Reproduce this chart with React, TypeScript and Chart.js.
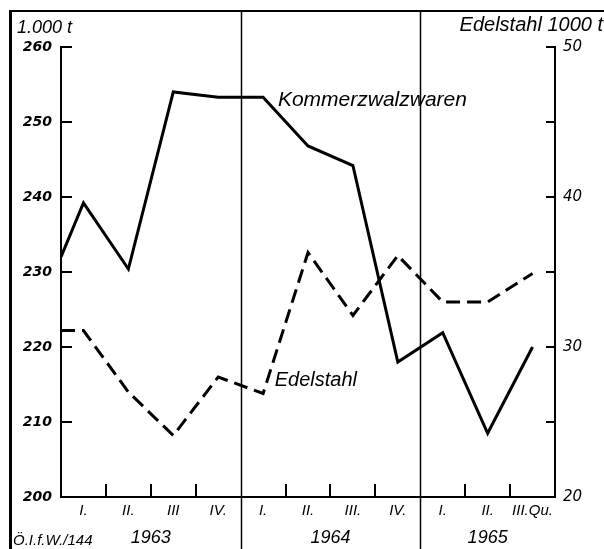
import { useEffect, useRef } from 'react';
import { Chart, registerables } from 'chart.js';

Chart.register(...registerables);

// ---- data ----
const quarterLabels = ['I.', 'II.', 'III', 'IV.', 'I.', 'II.', 'III.', 'IV.', 'I.', 'II.', 'III.Qu.'];
const yearLabels = ['1963', '1964', '1965'];
const yearQuarterCounts = [4, 4, 3];
const kommerzStart = 232; // value at the left edge (end of 1962)
const kommerzValues = [239.2, 230.4, 254, 253.3, 253.3, 246.8, 244.2, 218, 221.9, 208.5, 220];
const edelStart = 31.1;
const edelValues = [31.1, 27.0, 24.1, 28.0, 26.9, 36.3, 32.1, 36.1, 33.0, 33.0, 34.9];
const leftRange = [200, 260];
const leftStep = 10;
const rightRange = [20, 50];
const rightStep = 5;
const rightLabelStep = 10;

const LIB = "'Liberation Sans', Arial, sans-serif";
const DEJ = "'DejaVu Sans', sans-serif";

const toPoints = (start: number, vals: number[]) => [
  { x: 0, y: start },
  ...vals.map((v, i) => ({ x: i + 0.5, y: v })),
];

const yearBounds: number[] = [];
{
  let acc = 0;
  for (const c of yearQuarterCounts) {
    acc += c;
    yearBounds.push(acc);
  }
}
const yearCenters = yearQuarterCounts.map((c, i) => (yearBounds[i] - c / 2));

const decor = {
  id: 'decor',
  afterDraw(chart: any) {
    const { ctx, chartArea, scales } = chart;
    const xs = scales.x;
    const ys = scales.y;
    const y2 = scales.y2;
    ctx.save();
    ctx.fillStyle = '#000';
    ctx.strokeStyle = '#000';
    // frame
    ctx.fillRect(10, 10, 594, 2);
    ctx.fillRect(9, 10, 3, 539);
    // year separators
    ctx.lineWidth = 1.5;
    for (const b of yearBounds.slice(0, -1)) {
      const px = Math.round(xs.getPixelForValue(b)) + 0.5;
      ctx.beginPath();
      ctx.moveTo(px, 11);
      ctx.lineTo(px, 549);
      ctx.stroke();
    }
    // quarter ticks
    ctx.lineWidth = 2;
    for (let i = 1; i < quarterLabels.length; i++) {
      if (yearBounds.includes(i)) continue;
      const px = Math.round(xs.getPixelForValue(i));
      ctx.beginPath();
      ctx.moveTo(px, chartArea.bottom);
      ctx.lineTo(px, chartArea.bottom - 13);
      ctx.stroke();
    }
    // left ticks
    for (const t of ys.ticks) {
      const py = Math.round(ys.getPixelForValue(t.value));
      ctx.beginPath();
      ctx.moveTo(chartArea.left, py);
      ctx.lineTo(chartArea.left + 11, py);
      ctx.stroke();
    }
    // right ticks
    for (const t of y2.ticks) {
      const py = Math.round(y2.getPixelForValue(t.value));
      ctx.beginPath();
      ctx.moveTo(chartArea.right - 9, py);
      ctx.lineTo(chartArea.right, py);
      ctx.stroke();
    }
    // texts
    ctx.textBaseline = 'middle';
    ctx.textAlign = 'left';
    ctx.font = `italic 18px ${LIB}`;
    ctx.fillText('1.000 t', 17, 28);
    ctx.textAlign = 'right';
    ctx.font = `italic 20px ${LIB}`;
    ctx.fillText('Edelstahl 1000 t', 603, 25);
    ctx.textAlign = 'left';
    ctx.font = `italic 21px ${LIB}`;
    ctx.fillText('Kommerzwalzwaren', xs.getPixelForValue(4.83), ys.getPixelForValue(252.9));
    ctx.font = `italic 20px ${LIB}`;
    ctx.fillText('Edelstahl', xs.getPixelForValue(4.76), y2.getPixelForValue(27.8));
    ctx.font = `italic 15px ${LIB}`;
    ctx.fillText('Ö.I.f.W./144', 13, 541);
    ctx.restore();
  },
};

export default function App() {
  const ref = useRef<HTMLCanvasElement | null>(null);
  useEffect(() => {
    if (!ref.current) return;
    const chart = new Chart(ref.current, {
      type: 'line',
      data: {
        datasets: [
          {
            label: 'Kommerzwalzwaren',
            data: toPoints(kommerzStart, kommerzValues),
            borderColor: '#000',
            borderWidth: 3,
            pointRadius: 0,
            tension: 0,
            fill: false,
            borderJoinStyle: 'miter',
            xAxisID: 'x',
            yAxisID: 'y',
          },
          {
            label: 'Edelstahl',
            data: toPoints(edelStart, edelValues),
            borderColor: '#000',
            borderWidth: 3,
            borderDash: [14, 7],
            pointRadius: 0,
            tension: 0,
            fill: false,
            borderJoinStyle: 'miter',
            xAxisID: 'x',
            yAxisID: 'y2',
          },
        ],
      },
      options: {
        animation: false,
        responsive: false,
        maintainAspectRatio: false,
        layout: { padding: { top: 47, left: 0, right: 0, bottom: 0 } },
        plugins: { legend: { display: false }, tooltip: { enabled: false } },
        scales: {
          x: {
            type: 'linear',
            min: 0,
            max: quarterLabels.length,
            position: 'bottom',
            weight: 0,
            grid: { display: false, drawTicks: false },
            border: { display: true, color: '#000', width: 2 },
            afterBuildTicks: (s: any) => {
              s.ticks = quarterLabels.map((_, i) => ({ value: i + 0.5 }));
            },
            ticks: {
              autoSkip: false,
              maxRotation: 0,
              padding: 5,
              color: '#000',
              font: { family: LIB, size: 15, style: 'italic' },
              callback: (_v: any, i: number) => quarterLabels[i],
            },
            afterFit: (s: any) => {
              s.height = 24;
            },
          },
          x2: {
            type: 'linear',
            min: 0,
            max: quarterLabels.length,
            position: 'bottom',
            weight: 1,
            grid: { display: false, drawTicks: false },
            border: { display: false },
            afterBuildTicks: (s: any) => {
              s.ticks = yearCenters.map((v) => ({ value: v }));
            },
            ticks: {
              autoSkip: false,
              maxRotation: 0,
              padding: 6,
              color: '#000',
              font: { family: LIB, size: 18, style: 'italic' },
              callback: (_v: any, i: number) => yearLabels[i],
            },
            afterFit: (s: any) => {
              s.height = 28;
            },
          },
          y: {
            type: 'linear',
            position: 'left',
            min: leftRange[0],
            max: leftRange[1],
            grid: { display: false, drawTicks: false },
            border: { display: true, color: '#000', width: 2 },
            ticks: {
              stepSize: leftStep,
              padding: 9,
              color: '#000',
              font: { family: DEJ, size: 14, style: 'italic', weight: 'bold' },
            },
            afterFit: (s: any) => {
              s.width = 61;
            },
          },
          y2: {
            type: 'linear',
            position: 'right',
            min: rightRange[0],
            max: rightRange[1],
            grid: { display: false, drawTicks: false },
            border: { display: true, color: '#000', width: 2 },
            ticks: {
              stepSize: rightStep,
              padding: 8,
              color: '#000',
              font: { family: DEJ, size: 15, style: 'italic' },
              callback: (v: any) => (Number(v) % rightLabelStep === 0 ? String(v) : ''),
            },
            afterFit: (s: any) => {
              s.width = 49;
            },
          },
        },
      },
      plugins: [decor],
    } as any);
    return () => chart.destroy();
  }, []);
  return (
    <div style={{ position: 'fixed', left: 0, top: 0, width: 604, height: 549, background: '#fff' }}>
      <canvas ref={ref} width={604} height={549} style={{ display: 'block' }} />
    </div>
  );
}
